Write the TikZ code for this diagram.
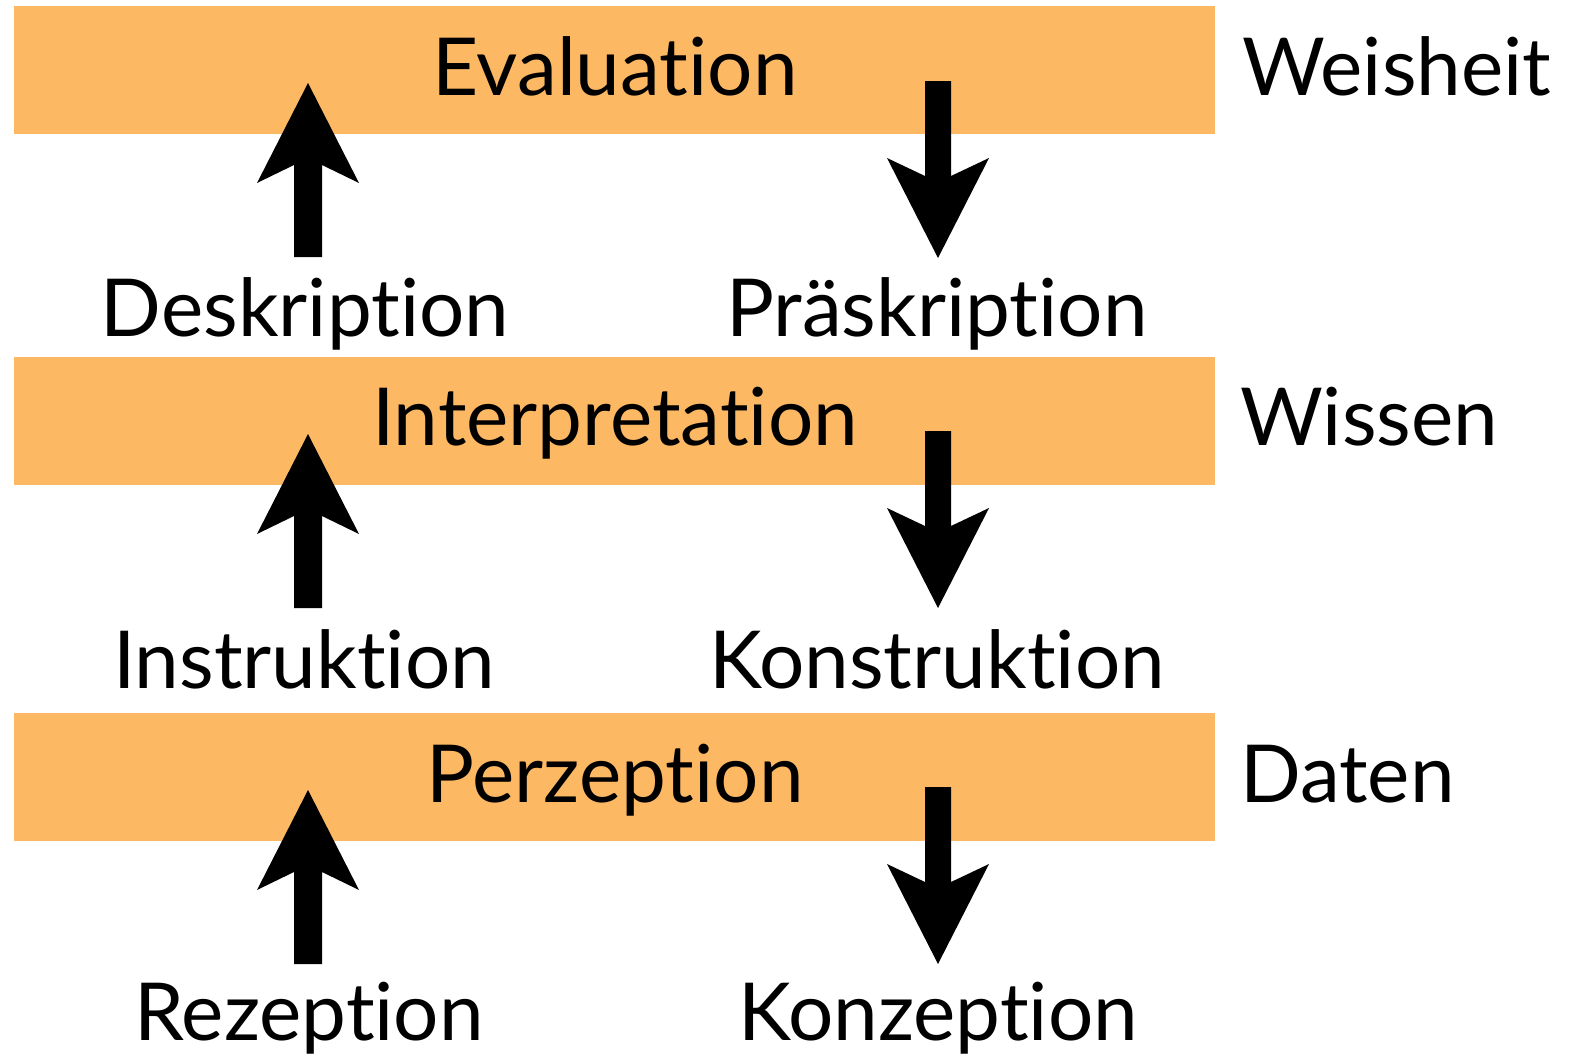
\documentclass[tikz,border=0pt]{standalone}
\usepackage{fontspec}
\setmainfont{Lato}[Ligatures={NoCommon,NoRare}]
\definecolor{band}{RGB}{253,184,99}
\tikzset{
  lbl/.style={anchor=base, inner sep=0pt, font=\fontsize{80}{96}\selectfont},
  rlbl/.style={anchor=base west, inner sep=0pt, font=\fontsize{80}{96}\selectfont},
  bandbox/.style={fill=band, draw=none, minimum width=1201pt, minimum height=128pt, inner sep=0pt, anchor=north west},
  uparr/.pic={\fill[black] (0,0) -- (51,100) -- (14,82) -- (14,174) -- (-14,174) -- (-14,82) -- (-51,100) -- cycle;},
  downarr/.pic={\fill[black] (0,0) -- (51,-100) -- (13,-82) -- (13,-177) -- (-13,-177) -- (-13,-82) -- (-51,-100) -- cycle;}
}
\begin{document}
\begin{tikzpicture}[x=1pt,y=-1pt]
\useasboundingbox (0,0) rectangle (1574,1060);
\node[bandbox] (b1) at (14,6) {};
\node[bandbox] (b2) at (14,357) {};
\node[bandbox] (b3) at (14,713) {};
\node[lbl] (eval) at (615,95) {Evaluation};
\node[lbl] (interp) at (615,445) {Interpretation};
\node[lbl] (perz) at (615,802) {Perzeption};
\node[rlbl] (weis) at (1242,95) {Weisheit};
\node[rlbl] (wiss) at (1240,445) {Wissen};
\node[rlbl] (dat) at (1240,802) {Daten};
\node[lbl] (desk) at (305,336) {Deskription};
\node[lbl] (prae) at (937,336) {Präskription};
\node[lbl] (instr) at (304,688) {Instruktion};
\node[lbl] (konst) at (937,688) {Konstruktion};
\node[lbl] (rez) at (309,1040) {Rezeption};
\node[lbl] (konz) at (938,1040) {Konzeption};
\pic at (308,83) {uparr};
\pic at (308,434) {uparr};
\pic at (308,790) {uparr};
\pic at (938,258) {downarr};
\pic at (938,608) {downarr};
\pic at (938,964) {downarr};
\end{tikzpicture}
\end{document}
